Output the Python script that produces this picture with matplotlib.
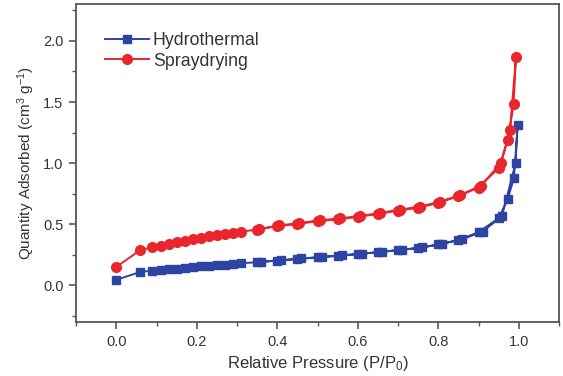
import matplotlib
matplotlib.use("Agg")
import matplotlib.pyplot as plt
from matplotlib.ticker import MultipleLocator

plt.rcParams['font.family'] = ['Liberation Sans', 'DejaVu Sans']
plt.rcParams['mathtext.fontset'] = 'custom'
plt.rcParams['mathtext.rm'] = 'Liberation Sans'
plt.rcParams['mathtext.default'] = 'regular'

# Hydrothermal: adsorption branch then desorption branch
hydro_ads_x = [0.0, 0.06, 0.09, 0.11, 0.13, 0.15, 0.17, 0.19, 0.21, 0.23, 0.25, 0.27, 0.29, 0.31,
               0.35, 0.40, 0.45, 0.50, 0.55, 0.60, 0.65, 0.70, 0.75, 0.80, 0.85, 0.90, 0.95,
               0.973, 0.988, 0.997]
hydro_ads_y = [0.045, 0.11, 0.12, 0.125, 0.13, 0.137, 0.143, 0.15, 0.155, 0.16, 0.165, 0.17, 0.176, 0.181,
               0.189, 0.202, 0.215, 0.228, 0.241, 0.255, 0.27, 0.288, 0.305, 0.335, 0.37, 0.435, 0.55,
               0.71, 0.88, 1.31]
hydro_des_x = [0.992, 0.958, 0.91, 0.86, 0.81, 0.76, 0.71, 0.66, 0.61, 0.56, 0.51, 0.46, 0.41, 0.36]
hydro_des_y = [1.0, 0.565, 0.44, 0.378, 0.34, 0.31, 0.292, 0.275, 0.26, 0.246, 0.233, 0.22, 0.206, 0.193]

# Spraydrying: adsorption branch then desorption branch
spray_ads_x = [0.0, 0.06, 0.09, 0.11, 0.13, 0.15, 0.17, 0.19, 0.21, 0.23, 0.25, 0.27, 0.29, 0.31,
               0.35, 0.40, 0.45, 0.50, 0.55, 0.60, 0.65, 0.70, 0.75, 0.80, 0.85, 0.90, 0.95,
               0.973, 0.987, 0.993]
spray_ads_y = [0.15, 0.29, 0.31, 0.325, 0.34, 0.353, 0.366, 0.378, 0.39, 0.40, 0.41, 0.42, 0.43, 0.44,
               0.456, 0.484, 0.502, 0.525, 0.539, 0.56, 0.584, 0.612, 0.634, 0.675, 0.73, 0.80, 0.96,
               1.19, 1.48, 1.87]
spray_des_x = [0.978, 0.956, 0.905, 0.855, 0.805, 0.755, 0.705, 0.655, 0.605, 0.555, 0.505, 0.455, 0.405, 0.355]
spray_des_y = [1.27, 1.0, 0.815, 0.74, 0.685, 0.645, 0.62, 0.592, 0.568, 0.548, 0.532, 0.51, 0.49, 0.462]

blue = '#2e44a3'
red = '#e8262b'

fig = plt.figure(figsize=(5.63, 3.76), dpi=100)
ax = fig.add_axes([0.135, 0.1436, 0.858, 0.845])

ax.plot(hydro_ads_x + hydro_des_x, hydro_ads_y + hydro_des_y, color=blue, marker='s',
        markersize=6.3, linewidth=1.4, label='Hydrothermal')
ax.plot(spray_ads_x + spray_des_x, spray_ads_y + spray_des_y, color=red, marker='o',
        markersize=7, linewidth=1.4, label='Spraydrying')

ax.set_xlim(-0.1, 1.1)
ax.set_ylim(-0.3, 2.3)
ax.xaxis.set_major_locator(MultipleLocator(0.2))
ax.xaxis.set_minor_locator(MultipleLocator(0.1))
ax.yaxis.set_major_locator(MultipleLocator(0.5))
ax.yaxis.set_minor_locator(MultipleLocator(0.25))
ax.xaxis.set_major_formatter(matplotlib.ticker.FormatStrFormatter('%.1f'))
ax.yaxis.set_major_formatter(matplotlib.ticker.FormatStrFormatter('%.1f'))

spine_c = '#555555'
for s in ax.spines.values():
    s.set_color(spine_c)
    s.set_linewidth(1.3)
ax.tick_params(which='major', direction='out', length=5, width=1.2, color=spine_c,
               labelsize=10.5, labelcolor='#333333', pad=4)
ax.tick_params(which='minor', direction='out', length=3, width=1.0, color=spine_c)

ax.set_xlabel('Relative Pressure (P/P$_0$)', fontsize=12, color='#333333', labelpad=4)
ax.set_ylabel('Quantity Adsorbed (cm$^3$ g$^{-1}$)', fontsize=11, color='#333333', labelpad=4)

leg = ax.legend(loc='upper left', bbox_to_anchor=(0.045, 0.935), frameon=False, fontsize=12.8,
                handlelength=2.5, handletextpad=0.2, labelspacing=0.2, borderaxespad=0)
for t in leg.get_texts():
    t.set_color('#333333')

fig.savefig('out.png', dpi=100)
